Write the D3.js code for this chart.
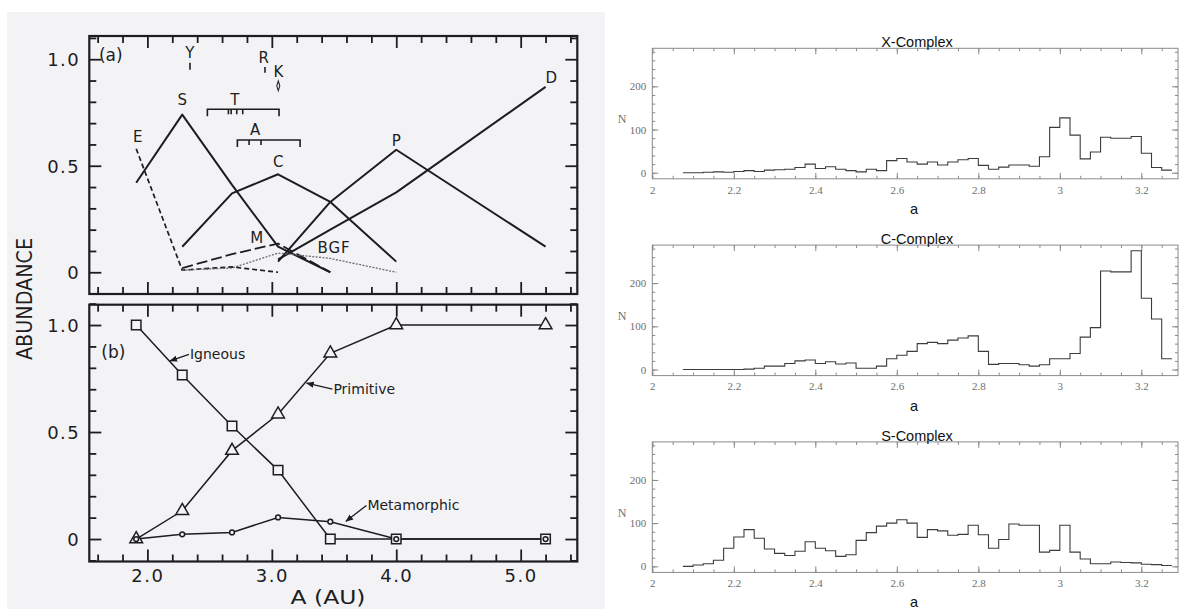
<!DOCTYPE html>
<html><head><meta charset="utf-8">
<script src="https://cdn.jsdelivr.net/npm/d3@7"></script>
<style>
html,body{margin:0;padding:0;background:#fff;}
svg{display:block;}
</style></head>
<body><svg id="fig" width="1179" height="609"></svg>
<script>
// ---------------- Left figure: abundance of asteroid types vs. semimajor axis ----------------
const zones = [1.91, 2.28, 2.68, 3.05, 3.47, 4.0, 5.2];

// (a) individual taxonomic types
const typeS   = [0.42, 0.74, 0.41, 0.12, 0.0, null, null];
const typeC   = [null, 0.12, 0.37, 0.46, 0.33, 0.05, null];
const typeP   = [null, null, null, 0.05, 0.33, 0.575, 0.12];
const typeD   = [null, null, null, 0.06, 0.20, 0.375, 0.87];
const typeE   = [0.58, 0.01, 0.025, 0.0, null, null, null];
const typeM   = [null, 0.02, 0.085, 0.135, 0.0, null, null];
const typeBGF = [null, 0.01, 0.02, 0.09, 0.065, 0.0, null];

// (b) broad compositional groups
const igneous     = [1.0, 0.766, 0.528, 0.322, 0.0, 0.0, 0.0];
const primitive   = [0.0, 0.132, 0.413, 0.583, 0.868, 1.0, 1.0];
const metamorphic = [0.0, 0.022, 0.031, 0.101, 0.081, 0.0, 0.0];

// curve names and where their letters sit (a, abundance)
const curveNames = ["S", "E", "C", "M", "BGF", "P", "D"];
const curveNameA = [2.281, 1.922, 3.052, 2.878, 3.50, 4.0, 5.246];
const curveNameV = [0.809, 0.637, 0.519, 0.164, 0.115, 0.618, 0.915];

// family locations shown along the top of (a)
const famY = 2.342, famR = 2.945, famK = 3.052;
const bracketT = [2.482, 3.058], membersT = [2.651, 2.673, 2.718, 2.766];
const bracketA = [2.723, 3.227], membersA = [2.817, 2.913];

// ---------------- Right figure: histograms of N vs. a ----------------
const binStart = 2.075, binWidth = 0.025;
const xComplex = [0,0,1,2,1,3,5,3,6,7,8,12,20,10,14,8,5,2,8,5,28,33,25,20,25,18,25,30,33,17,8,13,18,18,15,37,105,127,87,32,48,82,80,80,84,45,12,6];
const cComplex = [0,0,0,0,0,0,1,3,8,8,14,20,22,14,18,13,15,3,3,8,25,33,42,60,63,60,68,73,78,42,12,14,14,11,8,11,25,25,37,75,97,228,226,226,275,165,117,25];
const sComplex = [0,3,6,14,42,68,85,65,40,30,25,35,57,42,36,23,27,60,78,93,100,108,100,67,85,82,72,74,95,73,42,62,98,95,95,33,37,95,33,17,6,6,10,9,8,5,4,2];
const histTitles = ["X-Complex", "C-Complex", "S-Complex"];
const histSeries = [xComplex, cComplex, sComplex];
const histXTicks = [2, 2.2, 2.4, 2.6, 2.8, 3, 3.2];
const histYTicks = [0, 100, 200];

const svg = d3.select("#fig");
const INK = "#1d1d1f";
const PAPER = "#f3f3f6";
const LFONT = "'DejaVu Sans', sans-serif";

// scanned-paper background of the left figure
svg.append("rect").attr("x", 7).attr("y", 12).attr("width", 598).attr("height", 597).attr("fill", PAPER);

const left = svg.append("g");
const xA = d3.scaleLinear().domain([1.533, 5.455]).range([89.3, 577.3]);
const yA = d3.scaleLinear().domain([-0.102, 1.109]).range([294, 36]);
const yB = d3.scaleLinear().domain([-0.105, 1.095]).range([561.5, 304.7]);

const xMinor = d3.range(1.6, 5.41, 0.2).map(v => +v.toFixed(1));
const yMinor = d3.range(-0.1, 1.101, 0.1).map(v => +v.toFixed(1));
const isMajorX = v => Math.abs(v - Math.round(v)) < 1e-6;
const isMajorY = v => [0, 0.5, 1].some(m => Math.abs(v - m) < 1e-6);

function framePanel(y, showXLabels) {
  const [x0, x1] = xA.range();
  const [yb, yt] = y.range();
  const g = left.append("g");
  // inward ticks on all four sides, longer at major values
  const sides = [
    {axis: d3.axisBottom(xA), tr: `translate(0,${yt})`, vals: xMinor, major: isMajorX},
    {axis: d3.axisTop(xA), tr: `translate(0,${yb})`, vals: xMinor, major: isMajorX},
    {axis: d3.axisRight(y), tr: `translate(${x0},0)`, vals: yMinor, major: isMajorY},
    {axis: d3.axisLeft(y), tr: `translate(${x1},0)`, vals: yMinor, major: isMajorY}
  ];
  sides.forEach(s => {
    const minors = s.vals.filter(v => !s.major(v));
    const majors = s.vals.filter(v => s.major(v));
    [[minors, 7], [majors, 12]].forEach(([vals, len]) => {
      const ax = g.append("g").attr("transform", s.tr)
        .call(s.axis.tickValues(vals).tickSize(len).tickFormat(""));
      ax.select(".domain").remove();
      ax.selectAll("line").attr("stroke", INK).attr("stroke-width", 1.8);
    });
  });
  // y labels
  const yl = g.append("g").attr("transform", `translate(${x0},0)`)
    .call(d3.axisLeft(y).tickValues([0, 0.5, 1]).tickSize(0).tickPadding(9)
      .tickFormat(d => d === 0 ? "0" : d3.format(".1f")(d)));
  yl.select(".domain").remove();
  yl.selectAll("text").attr("font-family", LFONT).attr("font-size", 18).attr("fill", INK)
    .attr("letter-spacing", 1.5).attr("dy", "0.36em");
  if (showXLabels) {
    const xl = g.append("g").attr("transform", `translate(0,${yb})`)
      .call(d3.axisBottom(xA).tickValues([2, 3, 4, 5]).tickSize(0).tickPadding(8)
        .tickFormat(d3.format(".1f")));
    xl.select(".domain").remove();
    xl.selectAll("text").attr("font-family", LFONT).attr("font-size", 18).attr("fill", INK)
      .attr("letter-spacing", 1.5);
  }
  g.append("rect").attr("x", x0).attr("y", yt).attr("width", x1 - x0).attr("height", yb - yt)
    .attr("fill", "none").attr("stroke", INK).attr("stroke-width", 2.2);
}

framePanel(yA, false);
framePanel(yB, true);

// ---- panel (a) curves
const seriesA = [
  {vals: typeS, dash: null, w: 2, c: INK},
  {vals: typeC, dash: null, w: 2, c: INK},
  {vals: typeP, dash: null, w: 2, c: INK},
  {vals: typeD, dash: null, w: 2, c: INK},
  {vals: typeE, dash: "5,3", w: 1.7, c: INK},
  {vals: typeM, dash: "11,4", w: 1.8, c: INK},
  {vals: typeBGF, dash: "2,1.4", w: 1.3, c: "#6a6a70"}
];
const lineA = d3.line().defined(d => d[1] != null).x(d => xA(d[0])).y(d => yA(d[1]));
seriesA.forEach(s => {
  left.append("path").datum(zones.map((z, i) => [z, s.vals[i]]))
    .attr("d", lineA).attr("fill", "none").attr("stroke", s.c)
    .attr("stroke-width", s.w).attr("stroke-dasharray", s.dash)
    .attr("stroke-linejoin", "round");
});

const letterStyle = sel => sel.attr("font-family", LFONT).attr("font-size", 15)
  .attr("fill", INK).attr("text-anchor", "middle").attr("dy", "0.36em");

curveNames.forEach((n, i) => {
  left.append("text").text(n).attr("x", xA(curveNameA[i])).attr("y", yA(curveNameV[i]))
    .call(letterStyle).attr("letter-spacing", n.length > 1 ? 1 : 0);
});

// family markers
left.append("text").text("Y").attr("x", xA(famY)).attr("y", yA(1.031)).call(letterStyle);
left.append("line").attr("x1", xA(famY)).attr("x2", xA(famY)).attr("y1", yA(0.984)).attr("y2", yA(0.95))
  .attr("stroke", INK).attr("stroke-width", 1.6);
left.append("text").text("R").attr("x", xA(famR - 0.01)).attr("y", yA(1.009)).call(letterStyle);
left.append("line").attr("x1", xA(famR)).attr("x2", xA(famR)).attr("y1", yA(0.963)).attr("y2", yA(0.936))
  .attr("stroke", INK).attr("stroke-width", 1.6);
left.append("text").text("K").attr("x", xA(famK)).attr("y", yA(0.942)).call(letterStyle);
left.append("path").attr("d", d3.symbol(d3.symbolDiamond, 22)())
  .attr("transform", `translate(${xA(famK)},${yA(0.875)}) scale(0.6,1.1)`)
  .attr("fill", "none").attr("stroke", INK).attr("stroke-width", 1.6);

function bracket(range, members, v, label) {
  const y = yA(v);
  const x0 = xA(range[0]), x1 = xA(range[1]);
  left.append("path").attr("d", `M${x0},${y + 7}V${y}H${x1}V${y + 7}`)
    .attr("fill", "none").attr("stroke", INK).attr("stroke-width", 1.6);
  members.forEach(m => left.append("line").attr("x1", xA(m)).attr("x2", xA(m))
    .attr("y1", y).attr("y2", y + 5).attr("stroke", INK).attr("stroke-width", 1.6));
  left.append("text").text(label).attr("x", xA(d3.mean(members))).attr("y", y - 10).call(letterStyle);
}
bracket(bracketT, membersT, 0.765, "T");
bracket(bracketA, membersA, 0.621, "A");

left.append("text").text("(a)").attr("x", xA(1.61)).attr("y", yA(1.02)).attr("dy", "0.36em")
  .attr("font-family", LFONT).attr("font-size", 17).attr("fill", INK);

// ---- panel (b) curves with markers
const lineB = d3.line().x(d => xA(d[0])).y(d => yB(d[1]));
[igneous, primitive, metamorphic].forEach(vals => {
  left.append("path").datum(zones.map((z, i) => [z, vals[i]])).attr("d", lineB)
    .attr("fill", "none").attr("stroke", INK).attr("stroke-width", 1.5);
});
const markB = (vals, sym, size) => zones.forEach((z, i) => {
  left.append("path").attr("d", d3.symbol(sym, size)())
    .attr("transform", `translate(${xA(z)},${yB(vals[i])})`)
    .attr("fill", PAPER).attr("stroke", INK).attr("stroke-width", 1.5);
});
markB(igneous, d3.symbolSquare, 90);
markB(primitive, d3.symbolTriangle, 70);
markB(metamorphic, d3.symbolCircle, 18);

// arrowed labels
const defs = svg.append("defs");
defs.append("marker").attr("id", "arr").attr("viewBox", "0 0 10 10").attr("refX", 9).attr("refY", 5)
  .attr("markerWidth", 6).attr("markerHeight", 6).attr("orient", "auto-start-reverse")
  .append("path").attr("d", "M0,1L10,5L0,9z").attr("fill", INK);

const bNotes = [
  {t: "Igneous", a: 2.342, v: 0.863, ta: 2.182, tv: 0.832},
  {t: "Primitive", a: 3.495, v: 0.70, ta: 3.28, tv: 0.728},
  {t: "Metamorphic", a: 3.768, v: 0.157, ta: 3.596, tv: 0.083}
];
bNotes.forEach(n => {
  left.append("line").attr("x1", xA(n.a) - 1).attr("y1", yB(n.v))
    .attr("x2", xA(n.ta)).attr("y2", yB(n.tv))
    .attr("stroke", INK).attr("stroke-width", 1.3).attr("marker-end", "url(#arr)");
  left.append("text").text(n.t).attr("x", xA(n.a)).attr("y", yB(n.v)).attr("dy", "0.36em")
    .attr("font-family", LFONT).attr("font-size", 14).attr("fill", INK);
});

left.append("text").text("(b)").attr("x", xA(1.63)).attr("y", yB(0.873)).attr("dy", "0.36em")
  .attr("font-family", LFONT).attr("font-size", 17).attr("fill", INK);

left.append("text").text("ABUNDANCE").attr("transform", "translate(32,299) rotate(-90)")
  .attr("text-anchor", "middle").attr("font-family", LFONT).attr("font-size", 22)
  .attr("textLength", 122).attr("lengthAdjust", "spacingAndGlyphs").attr("fill", INK);
left.append("text").text("A  (AU)").attr("x", 328).attr("y", 604).attr("text-anchor", "middle")
  .attr("font-family", LFONT).attr("font-size", 19).attr("textLength", 75)
  .attr("lengthAdjust", "spacingAndGlyphs").attr("fill", INK);

// ---------------- histograms ----------------
const HX0 = 652.3, HX1 = 1178, H_TOP = 48.3, H_H = 130.5, H_STEP = 196.8;
const xH = d3.scaleLinear().domain([2.0, 3.29]).range([HX0, HX1]);
const HG = "#8a8a8a";
const SERIF = "'Liberation Serif', 'DejaVu Serif', serif";
const sans = "'Liberation Sans', Arial, sans-serif";

histSeries.forEach((vals, p) => {
  const top = H_TOP + p * H_STEP, bot = top + H_H;
  const yH = d3.scaleLinear().domain([-14, 288]).range([bot, top]);
  const g = svg.append("g");

  const xMin = d3.range(2.0, 3.2801, 0.05).map(v => +v.toFixed(2));
  const xMaj = histXTicks;
  const yMin = d3.range(0, 281, 20);
  const tickSets = [
    {ax: () => d3.axisBottom(xH), tr: `translate(0,${top})`, minor: xMin, major: xMaj},
    {ax: () => d3.axisTop(xH), tr: `translate(0,${bot})`, minor: xMin, major: xMaj},
    {ax: () => d3.axisRight(yH), tr: `translate(${HX0},0)`, minor: yMin, major: histYTicks},
    {ax: () => d3.axisLeft(yH), tr: `translate(${HX1},0)`, minor: yMin, major: histYTicks}
  ];
  tickSets.forEach(s => {
    [[s.minor, 3], [s.major, 6]].forEach(([v, len]) => {
      const a = g.append("g").attr("transform", s.tr).call(s.ax().tickValues(v).tickSize(len).tickFormat(""));
      a.select(".domain").remove();
      a.selectAll("line").attr("stroke", HG).attr("stroke-width", 1);
    });
  });
  g.append("rect").attr("x", HX0).attr("y", top).attr("width", HX1 - HX0).attr("height", H_H)
    .attr("fill", "none").attr("stroke", HG).attr("stroke-width", 1);

  const xl = g.append("g").attr("transform", `translate(0,${bot})`)
    .call(d3.axisBottom(xH).tickValues(xMaj).tickSize(0).tickPadding(7).tickFormat(d3.format("")));
  xl.select(".domain").remove();
  xl.selectAll("text").attr("font-family", SERIF).attr("font-size", 11).attr("fill", "#6e6e6e");

  const yl = g.append("g").attr("transform", `translate(${HX0},0)`)
    .call(d3.axisLeft(yH).tickValues(histYTicks).tickSize(0).tickPadding(6));
  yl.select(".domain").remove();
  yl.selectAll("text").attr("font-family", SERIF).attr("font-size", 11).attr("fill", "#6e6e6e");

  g.append("text").text("N").attr("x", 622).attr("y", yH(125)).attr("dy", "0.36em")
    .attr("text-anchor", "middle").attr("font-family", SERIF).attr("font-size", 12).attr("fill", "#6e6e6e");

  g.append("text").text(histTitles[p]).attr("x", 917).attr("y", top - 1).attr("text-anchor", "middle")
    .attr("font-family", sans).attr("font-size", 14.5).attr("fill", "#111");
  g.append("text").text("a").attr("x", 914).attr("y", bot + 35).attr("text-anchor", "middle")
    .attr("font-family", sans).attr("font-size", 14.5).attr("fill", "#111");

  // step outline of the counts in each bin
  const pts = [];
  vals.forEach((v, i) => {
    const e0 = binStart + i * binWidth;
    pts.push([e0, v], [e0 + binWidth, v]);
  });
  g.append("path").datum(pts)
    .attr("d", d3.line().x(d => xH(d[0])).y(d => yH(d[1])))
    .attr("fill", "none").attr("stroke", "#3c3c3c").attr("stroke-width", 1.1);
});
</script>
</body></html>
